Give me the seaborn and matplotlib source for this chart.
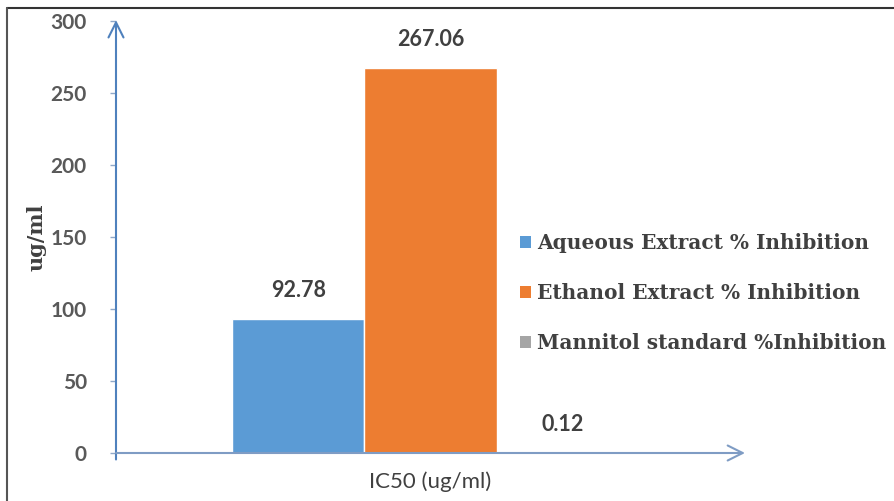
import matplotlib
matplotlib.use("Agg")
import matplotlib.pyplot as plt
from matplotlib.lines import Line2D
from matplotlib.patches import Patch
import seaborn as sns
import pandas as pd

categories = ["IC50 (ug/ml)"]
series = ["Aqueous Extract % Inhibition",
          "Ethanol Extract % Inhibition",
          "Mannitol standard %Inhibition"]
values = [92.78, 267.06, 0.12]
colors = ["#5b9bd5", "#ed7d31", "#a5a5a5"]
yticks = [0, 50, 100, 150, 200, 250, 300]

df = pd.DataFrame({"category": categories * len(series),
                   "series": series,
                   "value": values})

sns.set_theme(style="white")
plt.rcParams["font.family"] = ["Lato", "DejaVu Sans"]

fig = plt.figure(figsize=(8.95, 5.01), dpi=100)
ax = fig.add_axes([116 / 895, 48 / 501, (745 - 116) / 895, (453 - 21) / 501])

sns.barplot(data=df, x="category", y="value", hue="series",
            palette=colors, width=0.63, ax=ax, legend=False,
            saturation=1.0)

ax.set_xlim(-0.5, 0.5)
ax.set_ylim(0, 300)
ax.set_yticks(yticks)
ax.set_yticklabels([str(t) for t in yticks], fontweight="bold",
                   color="#595959", fontsize=15)
for lab in ax.get_xticklabels():
    lab.set_fontsize(16)
    lab.set_color("#404040")
ax.tick_params(axis="y", length=4, width=1, color="#8fa8c8", pad=17, left=True)
ax.tick_params(axis="x", length=0, pad=13)
ax.set_xlabel("")
ax.set_ylabel("ug/ml", fontfamily="DejaVu Serif", fontweight="bold",
              fontsize=15, color="#404040", labelpad=3)

for s in ax.spines.values():
    s.set_visible(False)

# axis lines with open arrow heads
ax.annotate("", xy=(0, 1.002), xytext=(0, -0.015), xycoords="axes fraction",
            arrowprops=dict(arrowstyle="->,head_length=0.9,head_width=0.45",
                            color="#4f81bd", lw=1.5, shrinkA=0, shrinkB=0),
            annotation_clip=False)
ax.annotate("", xy=(1.0, 0), xytext=(0, 0), xycoords="axes fraction",
            arrowprops=dict(arrowstyle="->,head_length=0.9,head_width=0.45",
                            color="#7f9cc4", lw=1.5, shrinkA=0, shrinkB=0),
            annotation_clip=False)

for cont in ax.containers:
    ax.bar_label(cont, fmt="%.2f", padding=13, fontsize=15.5,
                 fontweight="bold", color="#404040")

handles = [Patch(facecolor=c, edgecolor="none") for c in colors]
leg = fig.legend(handles, series, loc="upper left",
                 bbox_to_anchor=(502 / 895, 1 - 215 / 501),
                 frameon=False, handlelength=0.55, handleheight=0.55,
                 handletextpad=0.3, labelspacing=1.48,
                 prop={"family": "DejaVu Serif", "weight": "bold",
                       "size": 14.5})
for t in leg.get_texts():
    t.set_color("#404040")

# figure frame on top and left edges
fig.add_artist(Line2D([7 / 895, 1.0], [1 - 8 / 501, 1 - 8 / 501],
                      transform=fig.transFigure, color="#333333", lw=1.5))
fig.add_artist(Line2D([7 / 895, 7 / 895], [0, 1 - 8 / 501],
                      transform=fig.transFigure, color="#555555", lw=1.5))

fig.savefig("out.png", dpi=100)
